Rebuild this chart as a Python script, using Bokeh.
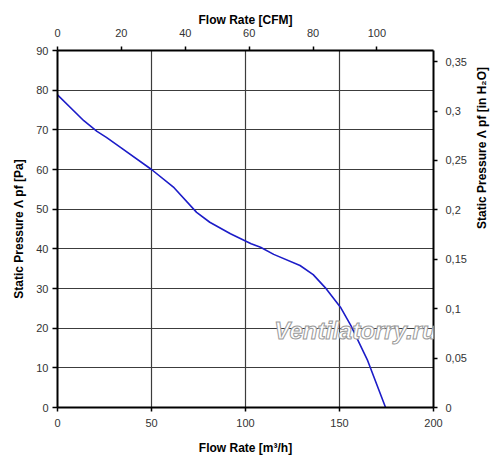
from math import pi
from bokeh.plotting import figure
from bokeh.models import Range1d, LinearAxis, FixedTicker, Label, CustomJSTickFormatter
from bokeh.embed import file_html
from bokeh.resources import INLINE

# ---- data ----
flow_m3h = [0, 14, 21, 26, 33.5, 50, 62, 74, 81, 92, 103, 108, 115, 129, 136, 143, 150.5, 156, 165, 174.5]
pressure_pa = [78.8, 72.3, 69.6, 68.1, 65.6, 60.0, 55.4, 49.2, 46.7, 43.8, 41.3, 40.4, 38.6, 35.8, 33.5, 29.9, 25.3, 20.7, 11.8, 0.0]

x_ticks_m3h = [0, 50, 100, 150, 200]
y_ticks_pa = [0, 10, 20, 30, 40, 50, 60, 70, 80, 90]
x_ticks_cfm = [0, 20, 40, 60, 80, 100]
y_ticks_inh2o = [0, 0.05, 0.1, 0.15, 0.2, 0.25, 0.3, 0.35]

M3H_TO_CFM = 0.5886
PA_PER_INH2O = 249.09

FONT = "Liberation Sans"
TICK_COLOR = "#333333"

p = figure(width=500, height=459, output_backend="svg", toolbar_location=None,
           x_range=Range1d(0, 200), y_range=Range1d(0, 90),
           min_border_left=57, min_border_right=67, min_border_top=50, min_border_bottom=52)
p.outline_line_color = None
p.background_fill_color = "white"
p.border_fill_color = "white"

p.extra_x_ranges = {"cfm": Range1d(0, 200 * M3H_TO_CFM)}
p.extra_y_ranges = {"inh2o": Range1d(0, 90 / PA_PER_INH2O)}

xa = p.below[0]
ya = p.left[0]
xt = FixedTicker(ticks=x_ticks_m3h)
yt = FixedTicker(ticks=y_ticks_pa)
xa.ticker = xt
ya.ticker = yt
p.xgrid[0].ticker = xt
p.ygrid[0].ticker = yt

top = LinearAxis(x_range_name="cfm", ticker=FixedTicker(ticks=x_ticks_cfm))
right = LinearAxis(y_range_name="inh2o", ticker=FixedTicker(ticks=y_ticks_inh2o),
                   formatter=CustomJSTickFormatter(code="return String(Math.round(tick*100)/100).replace('.', ',');"))
p.add_layout(top, "above")
p.add_layout(right, "right")

for ax in (xa, ya, top, right):
    ax.axis_line_color = "black"
    ax.axis_line_width = 2
    ax.major_tick_line_color = "black"
    ax.major_tick_line_width = 1.5
    ax.major_tick_in = 0
    ax.major_tick_out = 4
    ax.minor_tick_in = 0
    ax.minor_tick_out = 0
    ax.major_label_text_font = FONT
    ax.major_label_text_font_size = "11px"
    ax.major_label_text_color = TICK_COLOR
    ax.major_label_standoff = 5
    ax.axis_label_text_font = FONT
    ax.axis_label_text_font_size = "12px"
    ax.axis_label_text_font_style = "bold"
    ax.axis_label_text_color = "black"

ya.major_tick_out = 5
ya.major_label_standoff = 4
ya.axis_label = "Static Pressure Λ pf [Pa]"
ya.axis_label_standoff = 7

right.major_label_standoff = 8

# title of the right axis: a bare axis outside the tick axis, so its label reads bottom-to-top
right_title = LinearAxis(ticker=FixedTicker(ticks=[]), bounds=(0, 52),
                         axis_label="Static Pressure Λ pf [in H₂O]",
                         axis_label_orientation=pi / 2, axis_label_standoff=12,
                         axis_line_color=None, major_tick_out=0, major_tick_in=0,
                         minor_tick_out=0, minor_tick_in=0,
                         axis_label_text_font=FONT, axis_label_text_font_size="12px",
                         axis_label_text_font_style="bold", axis_label_text_color="black")
p.add_layout(right_title, "right")

xa.axis_label = "Flow Rate [m³/h]"
xa.major_label_standoff = 7
xa.axis_label_standoff = 11
top.axis_label = "Flow Rate [CFM]"
top.major_label_standoff = 10
top.axis_label_standoff = -1

for g in (p.xgrid[0], p.ygrid[0]):
    g.grid_line_color = "#3c3c3c"
    g.grid_line_width = 1.2

# curve
p.line(flow_m3h, pressure_pa, line_color="#1c1cc8", line_width=1.6)

# watermark
wm = Label(x=158.5, y=19.4, text="Ventilatorry.ru", text_font=FONT, text_font_size="24px",
           text_font_style="bold italic", text_color="white", text_outline_color="#9a9a9a",
           text_align="center", text_baseline="middle")
p.add_layout(wm)

open("out.html", "w").write(file_html(p, INLINE))
